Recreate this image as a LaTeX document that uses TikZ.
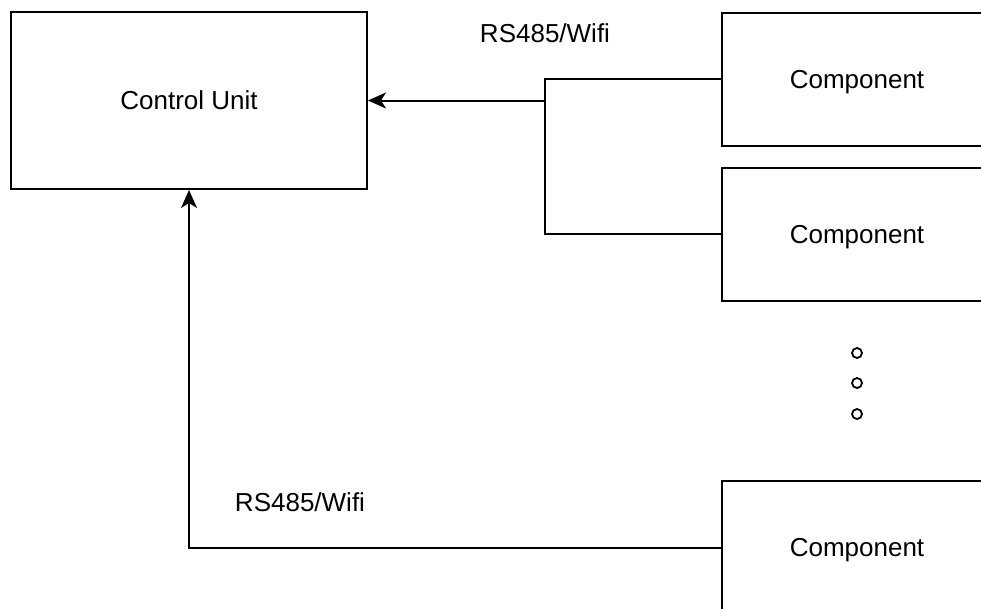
\documentclass[tikz,border=0pt]{standalone}
\usepackage{fontspec}
\setmainfont{Liberation Sans}
\usepackage{tikz}
\usetikzlibrary{arrows.meta}

\begin{document}
\begin{tikzpicture}[x=1pt,y=-1pt,line width=2pt,
	unit/.style={rectangle,draw,text depth=0pt,minimum width=356pt,minimum height=177pt},
	comp/.style={rectangle,draw,text depth=0pt,minimum width=270pt,minimum height=133pt},
	dot/.style={circle,draw,line width=1.8pt,minimum size=10pt,inner sep=0pt},
	link/.style={-{Stealth[length=18pt,width=16pt,inset=5pt]}},
	every node/.style={font=\fontsize{26}{30}\selectfont}]
\useasboundingbox (0,0) rectangle (981,608);
\clip (0,0) rectangle (981,608);
\node [unit] (cu) at (189,100.5) {Control Unit};
\node [comp] (c1) at (857,79) {Component};
\node [comp] (c2) at (857,234) {Component};
\node [comp] (c3) at (857,547.5) {Component};
\foreach \y [count=\i] in {353,383,414}
	\node [dot] (d\i) at (857,\y) {};
\coordinate (j) at (545,100.5);
\draw (c1.west) -| (j) |- (c2.west);
\draw [link] (j) -- (cu.east);
\draw [link] (c3.west) -| (cu.south);
\node (l1) at (545,33) {RS485/Wifi};
\node (l2) at (300,502) {RS485/Wifi};
\end{tikzpicture}
\end{document}
